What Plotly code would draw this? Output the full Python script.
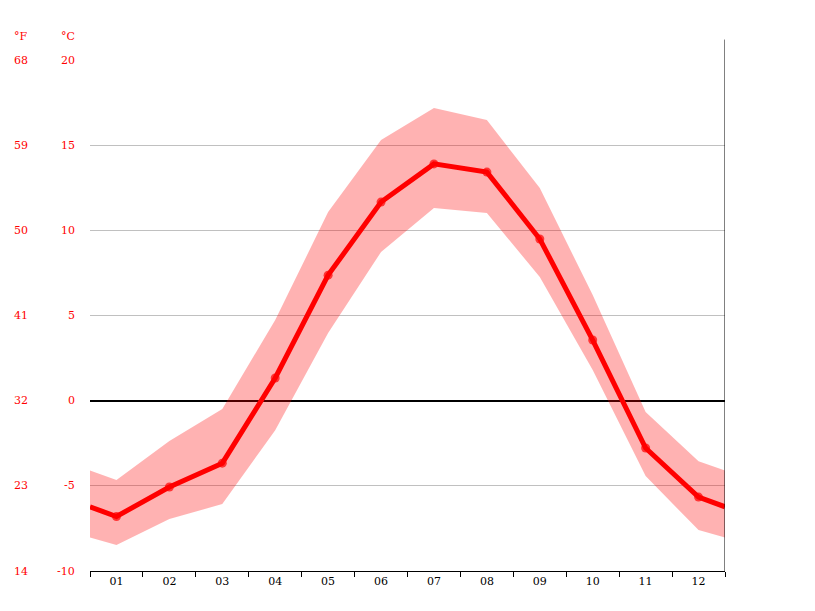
import plotly.graph_objects as go

months = ["01", "02", "03", "04", "05", "06", "07", "08", "09", "10", "11", "12"]
t_mean = [-6.8, -5.07, -3.67, 1.33, 7.37, 11.66, 13.9, 13.42, 9.49, 3.56, -2.78, -5.66]
t_max = [-4.66, -2.37, -0.49, 4.73, 11.07, 15.3, 17.18, 16.48, 12.48, 6.2, -0.67, -3.55]
t_min = [-8.48, -6.95, -6.07, -1.73, 3.97, 8.73, 11.31, 11.02, 7.26, 1.8, -4.43, -7.6]
c_ticks = [-10, -5, 0, 5, 10, 15, 20]
f_labels = ["14", "23", "32", "41", "50", "59", "68"]


def wrap(v):
    # half-month edges: average of December and January
    edge = (v[0] + v[-1]) / 2
    return [edge] + v + [edge]


x = [0.5] + list(range(1, 13)) + [12.5]
red = "#ff0000"

fig = go.Figure()
fig.add_trace(go.Scatter(x=x, y=wrap(t_min), mode="lines", line=dict(width=0),
                         hoverinfo="skip", showlegend=False))
fig.add_trace(go.Scatter(x=x, y=wrap(t_max), mode="lines", line=dict(width=0),
                         fill="tonexty", fillcolor="rgba(255,0,0,0.3)",
                         hoverinfo="skip", showlegend=False))
fig.add_trace(go.Scatter(x=x, y=wrap(t_mean), mode="lines+markers",
                         line=dict(color=red, width=5),
                         marker=dict(color=red, size=[0] + [9] * 12 + [0], line=dict(width=0)),
                         showlegend=False))

font = dict(family="DejaVu Serif", size=11, color=red)
ann = []
for c, f in zip(c_ticks, f_labels):
    ann.append(dict(x=-0.02, xref="paper", y=c, yref="y", text=str(c), showarrow=False,
                    xanchor="right", font=font))
    ann.append(dict(x=-0.095, xref="paper", y=c, yref="y", text=f, showarrow=False,
                    xanchor="right", font=font))
ann.append(dict(x=-0.02, xref="paper", y=1.03, yref="paper", text="°C", showarrow=False,
                xanchor="right", yanchor="bottom", font=font))
ann.append(dict(x=-0.095, xref="paper", y=1.03, yref="paper", text="°F", showarrow=False,
                xanchor="right", yanchor="bottom", font=font))

fig.update_layout(
    width=815, height=611, plot_bgcolor="white", paper_bgcolor="white",
    margin=dict(l=82, r=98, t=52, b=48),
    annotations=ann,
    xaxis=dict(range=[0.5, 12.5], tickvals=list(range(1, 13)), ticktext=months,
               ticks="", showgrid=False, zeroline=False, showline=True,
               linecolor="black", mirror=False,
               minor=dict(tickvals=[i + 0.5 for i in range(13)], ticks="outside",
                          ticklen=5, tickcolor="black"),
               tickfont=dict(family="DejaVu Serif", size=11, color="black")),
    yaxis=dict(range=[-10, 20], tickvals=c_ticks, showticklabels=False,
               showgrid=True, gridcolor="#c0c0c0", zeroline=True,
               zerolinecolor="black", zerolinewidth=1.5),
    shapes=[dict(type="line", xref="x", yref="paper", x0=12.5, x1=12.5, y0=0, y1=1.04,
                 line=dict(color="black", width=1))],
)
fig.write_html("out.html")
